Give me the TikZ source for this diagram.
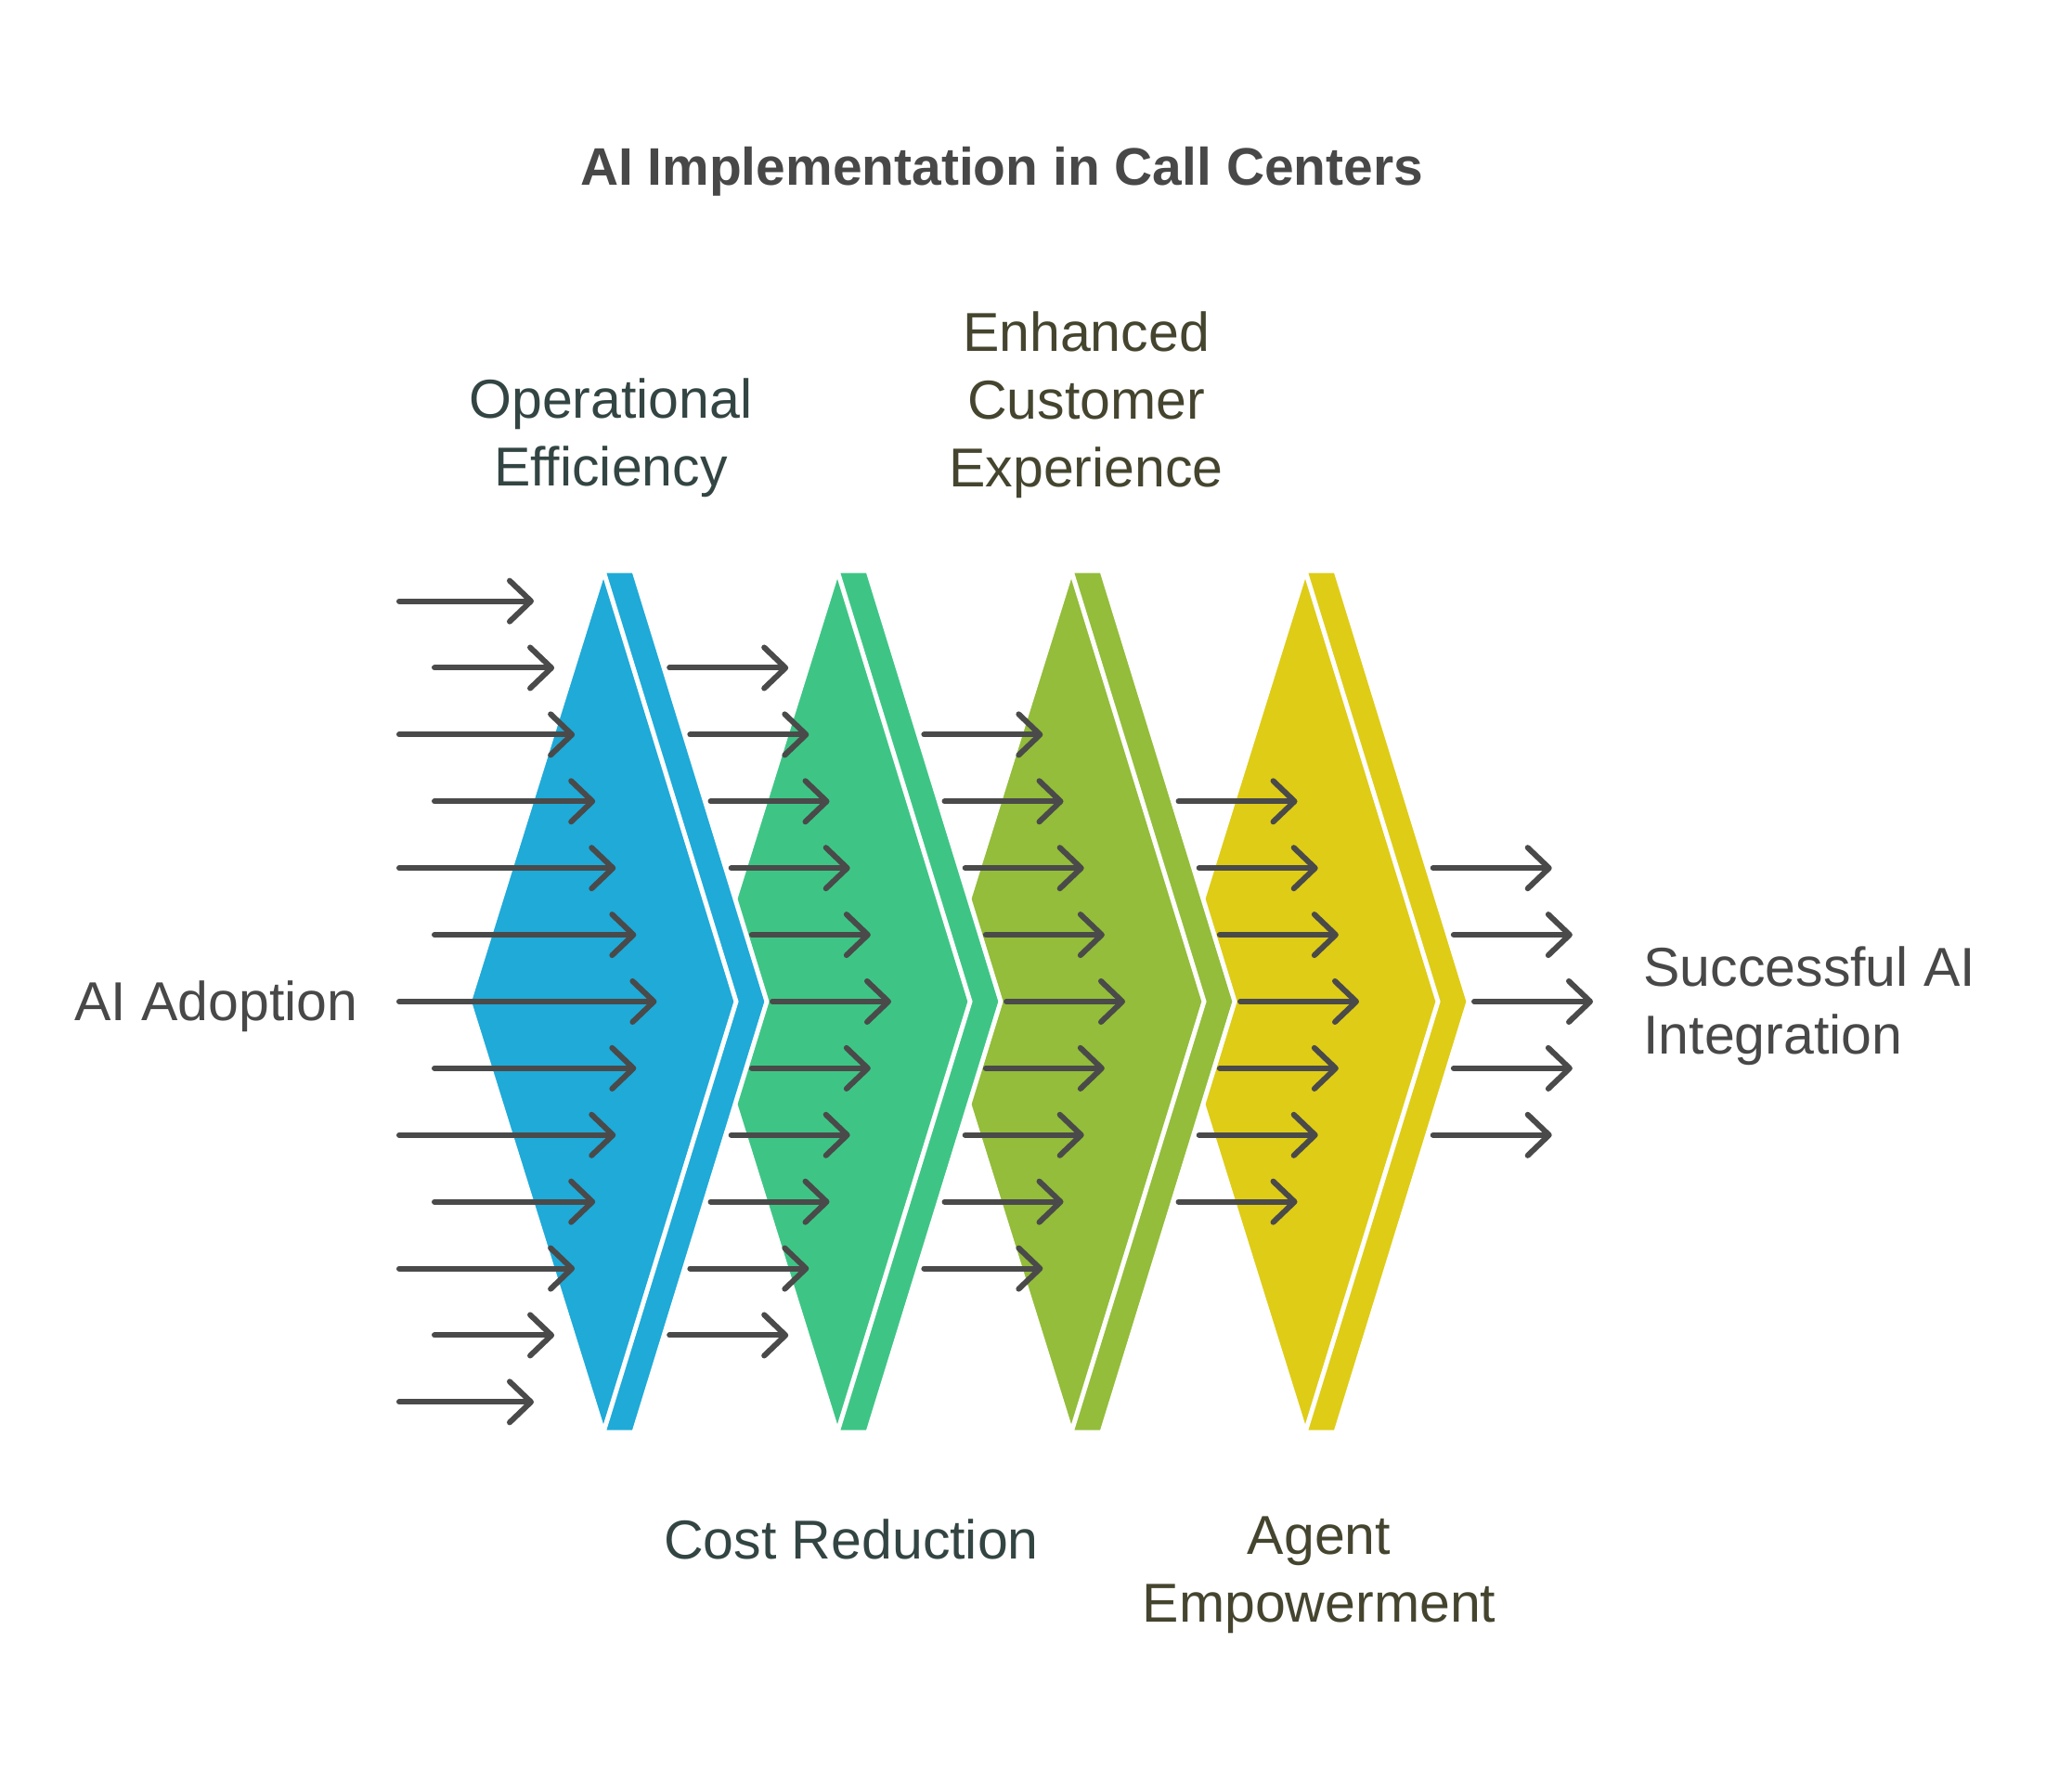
\documentclass[tikz,border=0pt]{standalone}
\usepackage{fontspec}
\setmainfont{Liberation Sans}
\usepackage{xcolor}
\usetikzlibrary{positioning}
\usetikzlibrary{arrows.meta}

\definecolor{stageblue}{HTML}{1FAAD8}
\definecolor{stagegreen}{HTML}{3EC585}
\definecolor{stageolive}{HTML}{93BD3A}
\definecolor{stageyellow}{HTML}{DECC17}
\definecolor{ink}{HTML}{4A4A4A}
\definecolor{greyink}{HTML}{484848}
\definecolor{slateink}{HTML}{334543}
\definecolor{oliveink}{HTML}{45452F}

\tikzset{
  flow/.style={draw=ink, line width=0.6mm, line cap=round,
    -{Straight Barb[length=2.3mm,width=4.4mm,round]}},
  chevron/.style={draw=white, line width=0.5mm, line join=miter},
  stagetext/.style={align=center, font=\fontsize{16.8pt}{20.7pt}\selectfont},
  headline/.style={text=greyink, font=\fontsize{16.2pt}{19pt}\selectfont\bfseries}
}

\begin{document}
\begin{tikzpicture}
            \useasboundingbox (0,0) rectangle (22.32,19.08);
            % chevron stages, drawn right to left so each band lies on the next one
            \foreach \i/\col in {3/stageyellow,2/stageolive,1/stagegreen,0/stageblue} {
              \begin{scope}[xshift=2.52*\i cm]
                \fill[chevron, fill=\col] (6.505,12.945) -- (7.94,8.29) -- (6.505,3.635) -- (5.054,8.29) -- cycle;
                \fill[chevron, fill=\col] (6.50,12.93) -- (6.83,12.93) -- (8.26,8.29) -- (6.83,3.65)
                  -- (6.50,3.65) -- (7.93,8.29) -- cycle;
              \end{scope}
            }
            
            \node[headline] (title) at (10.79,17.23) {AI Implementation in Call Centers};
            
            \node[stagetext, text=greyink] (adoption) at (2.33,8.24) {AI Adoption};
            \node[stagetext, text=slateink] (opeff) at (6.58,14.36) {Operational\\Efficiency};
            \node[stagetext, text=slateink] (cost) at (9.17,2.50) {Cost Reduction};
            \node[stagetext, text=oliveink] (custexp) at (11.70,14.72) {Enhanced\\Customer\\Experience};
            \node[stagetext, text=oliveink] (agent) at (14.21,2.11) {Agent\\Empowerment};
            \node[stagetext, text=greyink, align=left, anchor=west] (success) at (17.58,8.24) {Successful AI\\Integration};
            
            % incoming arrows
            \foreach \k in {-6,...,6} {
              \pgfmathtruncatemacro\n{\k+6}
              \pgfmathsetmacro\sx{mod(abs(\k),2)==1 ? 4.68 : 4.30}
              \pgfmathsetmacro\tx{5.75+0.2207*(6-abs(\k))}
              \coordinate (s0-\n) at (\sx,8.29-0.719*\k);
              \coordinate (t0-\n) at (\tx,8.29-0.719*\k);
              \draw[flow] (s0-\n) -- (t0-\n);
            }
            
            % arrows leaving each stage
            \foreach \c in {1,...,4} {
              \pgfmathtruncatemacro\m{6-\c}
              \foreach \k in {-\m,...,\m} {
                \pgfmathtruncatemacro\n{\k+6}
                \pgfmathsetmacro\sx{8.32+2.52*(\c-1)-0.2216*abs(\k)}
                \coordinate (s\c-\n) at (\sx,8.29-0.719*\k);
                \coordinate (t\c-\n) at (\sx+1.28,8.29-0.719*\k);
                \draw[flow] (s\c-\n) -- (t\c-\n);
              }
            }
        \end{tikzpicture}
\end{document}
